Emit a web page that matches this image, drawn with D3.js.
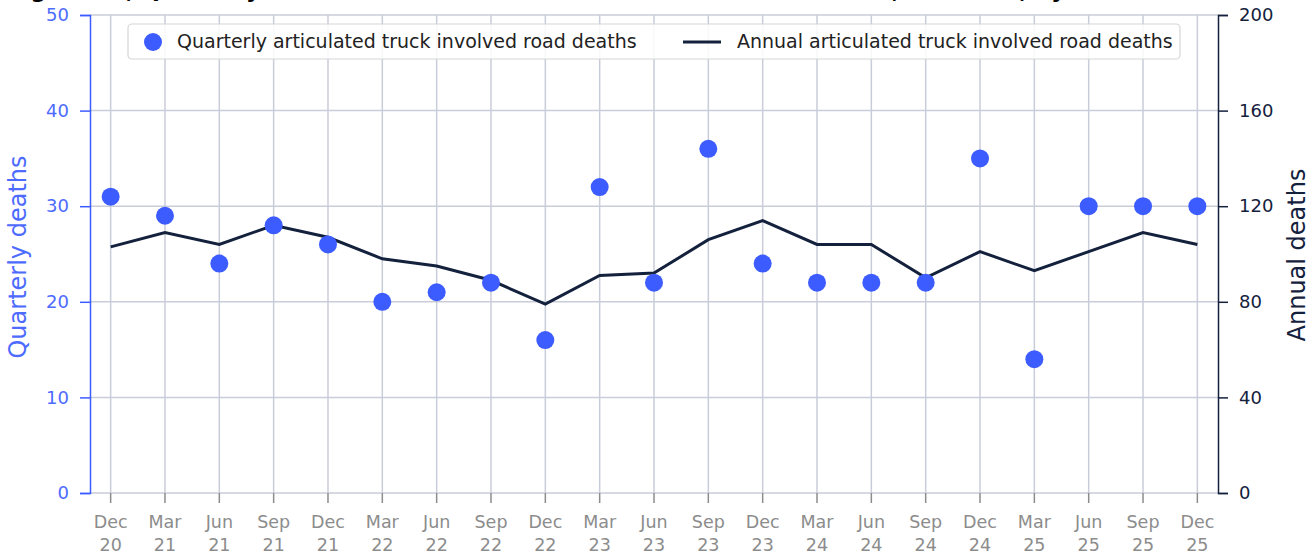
<!DOCTYPE html>
<html>
<head>
<meta charset="utf-8">
<script src="https://cdn.jsdelivr.net/npm/d3@7"></script>
<style>
  body { margin: 0; background: #fff; }
  svg { display: block; font-family: "DejaVu Sans", sans-serif; }
</style>
</head>
<body>
<div id="chart"></div>
<script>
// quarter labels (month / year)
const months = ["Dec","Mar","Jun","Sep","Dec","Mar","Jun","Sep","Dec","Mar","Jun","Sep","Dec","Mar","Jun","Sep","Dec","Mar","Jun","Sep","Dec"];
const years  = ["20","21","21","21","21","22","22","22","22","23","23","23","23","24","24","24","24","25","25","25","25"];
// deaths in each quarter (left axis)
const quarterly = [31,29,24,28,26,20,21,22,16,32,22,36,24,22,22,22,35,14,30,30,30];
// rolling 12 month deaths (right axis)
const annual = [103,109,104,112,107,98,95,89,79,91,92,106,114,104,104,90,101,93,101,109,104];
const leftTicks = [0,10,20,30,40,50];
const rightTicks = [0,40,80,120,160,200];

const W = 1316, H = 555;
const margin = { top: 15, right: 98, bottom: 62, left: 90 };
const width = W - margin.left - margin.right,
    height = H - margin.top - margin.bottom;

const blue = "#3d5cff", blueText = "#4d6bff", navy = "#14213d", grid = "#c9cdd9", grey = "#8c8c8c";

const svg = d3.select("#chart").append("svg")
    .attr("width", W).attr("height", H);

// title, mostly cut off at the top edge
svg.append("text")
    .attr("x", 8).attr("y", -2)
    .style("font-size", "22px").style("font-weight", "bold")
    .text("Figure 12, Quarterly and annual articulated truck involved road deaths, Australia, by month");

const g = svg.append("g")
    .attr("transform", "translate(" + margin.left + "," + margin.top + ")");

const idx = d3.range(quarterly.length);
const x = d3.scalePoint().domain(idx).range([0, width]).padding(0.38);
const yL = d3.scaleLinear().domain([0, 50]).range([height, 0]);
const yR = d3.scaleLinear().domain([0, 200]).range([height, 0]);

// grid
g.append("g").selectAll("line.h").data(leftTicks).join("line")
    .attr("x1", 0).attr("x2", width)
    .attr("y1", d => yL(d)).attr("y2", d => yL(d))
    .attr("stroke", grid).attr("stroke-width", 1.5);
g.append("g").selectAll("line.v").data(idx).join("line")
    .attr("x1", d => x(d)).attr("x2", d => x(d))
    .attr("y1", 0).attr("y2", height)
    .attr("stroke", grid).attr("stroke-width", 1.5);

// x axis ticks + two-line labels
const xAx = g.append("g").attr("transform", "translate(0," + height + ")");
xAx.selectAll("line").data(idx).join("line")
    .attr("x1", d => x(d)).attr("x2", d => x(d))
    .attr("y1", 0).attr("y2", 10)
    .attr("stroke", grey).attr("stroke-width", 1.5);
const xl = xAx.selectAll("text").data(idx).join("text")
    .attr("x", d => x(d)).attr("text-anchor", "middle")
    .attr("fill", grey).style("font-size", "17.5px");
xl.append("tspan").attr("x", d => x(d)).attr("y", 35).text(d => months[d]);
xl.append("tspan").attr("x", d => x(d)).attr("y", 58).text(d => years[d]);

// left axis
const leftAxis = g.append("g").call(d3.axisLeft(yL).tickValues(leftTicks).tickSize(10).tickPadding(11));
leftAxis.select(".domain").attr("stroke", blue).attr("stroke-width", 1.5);
leftAxis.selectAll(".tick line").attr("stroke", blue).attr("stroke-width", 1.5);
leftAxis.selectAll(".tick text").attr("fill", blueText).style("font-size", "18px").style("font-family", "DejaVu Sans");

// right axis
const rightAxis = g.append("g").attr("transform", "translate(" + width + ",0)")
    .call(d3.axisRight(yR).tickValues(rightTicks).tickSize(10).tickPadding(11));
rightAxis.select(".domain").attr("stroke", navy).attr("stroke-width", 1.5);
rightAxis.selectAll(".tick line").attr("stroke", navy).attr("stroke-width", 1.5);
rightAxis.selectAll(".tick text").attr("fill", navy).style("font-size", "18px").style("font-family", "DejaVu Sans");

// axis titles
g.append("text")
    .attr("transform", "translate(-64," + (height / 2 + 3) + ") rotate(-90)")
    .attr("text-anchor", "middle").attr("fill", blueText)
    .style("font-size", "24px").text("Quarterly deaths");
g.append("text")
    .attr("transform", "translate(" + (width + 87) + "," + (height / 2 + 1) + ") rotate(-90)")
    .attr("text-anchor", "middle").attr("fill", navy)
    .style("font-size", "24px").text("Annual deaths");

// annual line
const line = d3.line().x((d, i) => x(i)).y(d => yR(d));
g.append("path").datum(annual)
    .attr("d", line).attr("fill", "none")
    .attr("stroke", navy).attr("stroke-width", 3);

// quarterly dots
g.selectAll("circle.q").data(quarterly).join("circle")
    .attr("cx", (d, i) => x(i)).attr("cy", d => yL(d))
    .attr("r", 9).attr("fill", blue);

// legend
const lg = svg.append("g");
lg.append("rect")
    .attr("x", 128).attr("y", 24).attr("width", 1052).attr("height", 35)
    .attr("rx", 4).attr("fill", "#fff").attr("fill-opacity", 0.85)
    .attr("stroke", "#d6d6d6").attr("stroke-width", 1.2);
lg.append("circle").attr("cx", 153).attr("cy", 42).attr("r", 9).attr("fill", blue);
lg.append("text").attr("x", 177).attr("y", 48)
    .attr("fill", "#222").style("font-size", "19px")
    .text("Quarterly articulated truck involved road deaths");
lg.append("line").attr("x1", 683).attr("x2", 721).attr("y1", 42).attr("y2", 42)
    .attr("stroke", navy).attr("stroke-width", 3);
lg.append("text").attr("x", 737).attr("y", 48)
    .attr("fill", "#222").style("font-size", "19px")
    .text("Annual articulated truck involved road deaths");
</script>
</body>
</html>
